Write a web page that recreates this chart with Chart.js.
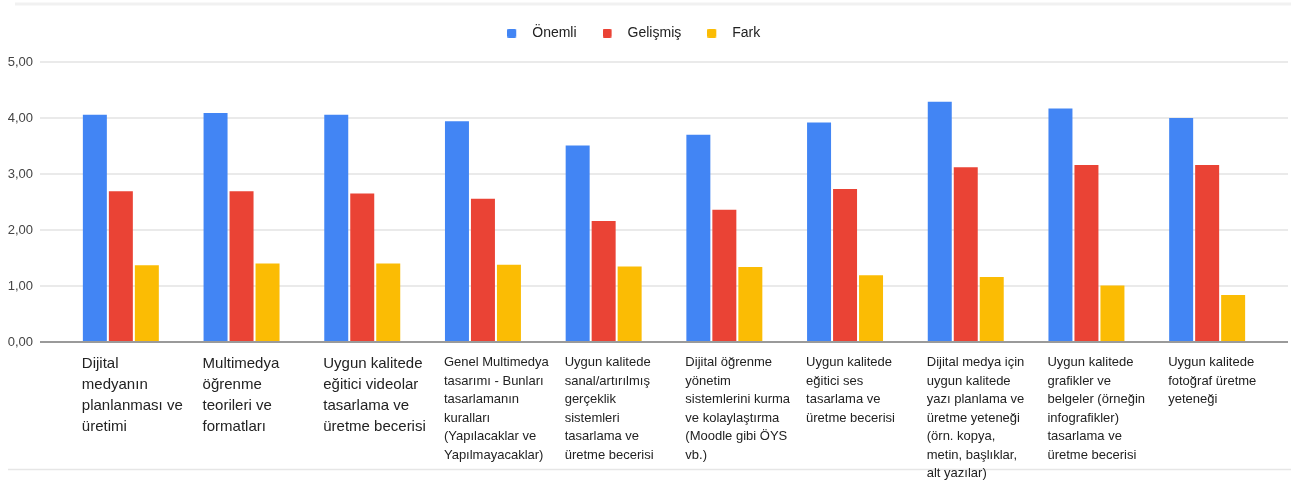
<!DOCTYPE html>
<html>
<head>
<meta charset="utf-8">
<script src="https://cdn.jsdelivr.net/npm/chart.js@4.4.1/dist/chart.umd.min.js"></script>
<style>
  html, body { margin: 0; padding: 0; background: #ffffff; }
  #wrap { width: 1291px; height: 481px; position: relative; }
</style>
</head>
<body>
<div id="wrap"><canvas id="c" width="1291" height="481"></canvas></div>
<script>
// ---- Data ----
const categoryLines = [
  ["Dijital", "medyanın", "planlanması ve", "üretimi"],
  ["Multimedya", "öğrenme", "teorileri ve", "formatları"],
  ["Uygun kalitede", "eğitici videolar", "tasarlama ve", "üretme becerisi"],
  ["Genel Multimedya", "tasarımı - Bunları", "tasarlamanın", "kuralları", "(Yapılacaklar ve", "Yapılmayacaklar)"],
  ["Uygun kalitede", "sanal/artırılmış", "gerçeklik", "sistemleri", "tasarlama ve", "üretme becerisi"],
  ["Dijital öğrenme", "yönetim", "sistemlerini kurma", "ve kolaylaştırma", "(Moodle gibi ÖYS", "vb.)"],
  ["Uygun kalitede", "eğitici ses", "tasarlama ve", "üretme becerisi"],
  ["Dijital medya için", "uygun kalitede", "yazı planlama ve", "üretme yeteneği", "(örn. kopya,", "metin, başlıklar,", "alt yazılar)"],
  ["Uygun kalitede", "grafikler ve", "belgeler (örneğin", "infografikler)", "tasarlama ve", "üretme becerisi"],
  ["Uygun kalitede", "fotoğraf üretme", "yeteneği"]
];
const seriesNames = ["Önemli", "Gelişmiş", "Fark"];
const onemli   = [4.06, 4.09, 4.06, 3.94, 3.51, 3.70, 3.92, 4.29, 4.17, 4.00];
const gelismis = [2.69, 2.69, 2.65, 2.56, 2.16, 2.36, 2.73, 3.12, 3.16, 3.16];
const fark     = [1.37, 1.40, 1.40, 1.38, 1.35, 1.34, 1.19, 1.16, 1.01, 0.84];
const yMin = 0, yMax = 5, yStep = 1;

// ---- Styles ----
const FONT = '"Liberation Sans", Arial, sans-serif';
const seriesColors = ["#4285F4", "#EA4335", "#FBBC04"];

function makeSwatch(color) {
  const c = document.createElement('canvas');
  c.width = 18; c.height = 9;
  const g = c.getContext('2d');
  g.fillStyle = color;
  g.beginPath();
  if (g.roundRect) g.roundRect(0, 0, 9, 9, 1.5); else g.rect(0, 0, 9, 9);
  g.fill();
  return c;
}
const swatches = seriesColors.map(makeSwatch);

const decor = {
  id: 'decor',
  beforeDraw(chart) {
    const ctx = chart.ctx;
    ctx.save();
    ctx.strokeStyle = '#f1f1f1';
    ctx.lineWidth = 3;
    ctx.beginPath(); ctx.moveTo(15, 4); ctx.lineTo(1291, 4); ctx.stroke();
    ctx.strokeStyle = '#e6e6e6';
    ctx.lineWidth = 1.5;
    ctx.beginPath(); ctx.moveTo(8, 469.5); ctx.lineTo(1291, 469.5); ctx.stroke();
    ctx.restore();
  },
  beforeDatasetsDraw(chart) {
    const y = chart.scales.y, ctx = chart.ctx;
    ctx.save();
    ctx.strokeStyle = '#e3e3e3';
    ctx.lineWidth = 1.6;
    y.ticks.forEach(t => {
      if (t.value === yMin) return;
      const py = y.getPixelForValue(t.value);
      ctx.beginPath(); ctx.moveTo(40, py); ctx.lineTo(1288, py); ctx.stroke();
    });
    ctx.restore();
  },
  afterDatasetsDraw(chart) {
    const y = chart.scales.y, ctx = chart.ctx;
    const py = y.getPixelForValue(yMin);
    ctx.save();
    ctx.strokeStyle = '#9a9a9a';
    ctx.lineWidth = 1.8;
    ctx.beginPath(); ctx.moveTo(40, py); ctx.lineTo(1288, py); ctx.stroke();
    ctx.restore();
  }
};

const legendGap = {
  id: 'legendGap',
  beforeInit(chart) {
    const lg = chart.legend;
    if (lg && !lg._gapPatched) {
      const f = lg.fit;
      lg.fit = function () { f.call(this); this.height += 12; };
      lg._gapPatched = true;
    }
  }
};

const seriesData = [onemli, gelismis, fark];

new Chart(document.getElementById('c'), {
  type: 'bar',
  data: {
    labels: categoryLines,
    datasets: seriesNames.map((name, i) => ({
      label: name,
      data: seriesData[i],
      backgroundColor: seriesColors[i],
      borderWidth: 0,
      categoryPercentage: 0.646,
      barPercentage: 0.923
    }))
  },
  options: {
    responsive: false,
    animation: false,
    devicePixelRatio: 1,
    layout: { padding: { top: 0, left: 0, right: 23.5, bottom: 0 } },
    plugins: {
      tooltip: { enabled: false },
      legend: {
        position: 'top',
        align: 'center',
        labels: {
          usePointStyle: true,
          pointStyleWidth: 18,
          padding: 26,
          color: '#222222',
          font: { family: FONT, size: 14 },
          generateLabels(chart) {
            const items = Chart.defaults.plugins.legend.labels.generateLabels(chart);
            items.forEach((it, i) => { it.pointStyle = swatches[i]; });
            return items;
          }
        }
      }
    },
    scales: {
      x: {
        offset: true,
        grid: { display: false, drawTicks: false },
        border: { display: false },
        afterFit(scale) {
          scale.height = 139;
          scale.paddingLeft = 0;
          scale.paddingRight = 0;
        },
        ticks: {
          autoSkip: false,
          maxRotation: 0,
          minRotation: 0,
          align: 'start',
          labelOffset: -39,
          padding: 11.5,
          color: '#222222',
          font(ctx) {
            return ctx.index < 3
              ? { family: FONT, size: 15, lineHeight: 1.4 }
              : { family: FONT, size: 13, lineHeight: 1.423 };
          }
        }
      },
      y: {
        min: yMin,
        max: yMax,
        grid: { display: false, drawTicks: false },
        border: { display: false },
        afterFit(scale) { scale.width = 60.5; },
        ticks: {
          stepSize: yStep,
          padding: 27.5,
          color: '#444444',
          font: { family: FONT, size: 13 },
          callback: (v) => Number(v).toFixed(2).replace('.', ',')
        }
      }
    }
  },
  plugins: [decor, legendGap]
});
</script>
</body>
</html>
